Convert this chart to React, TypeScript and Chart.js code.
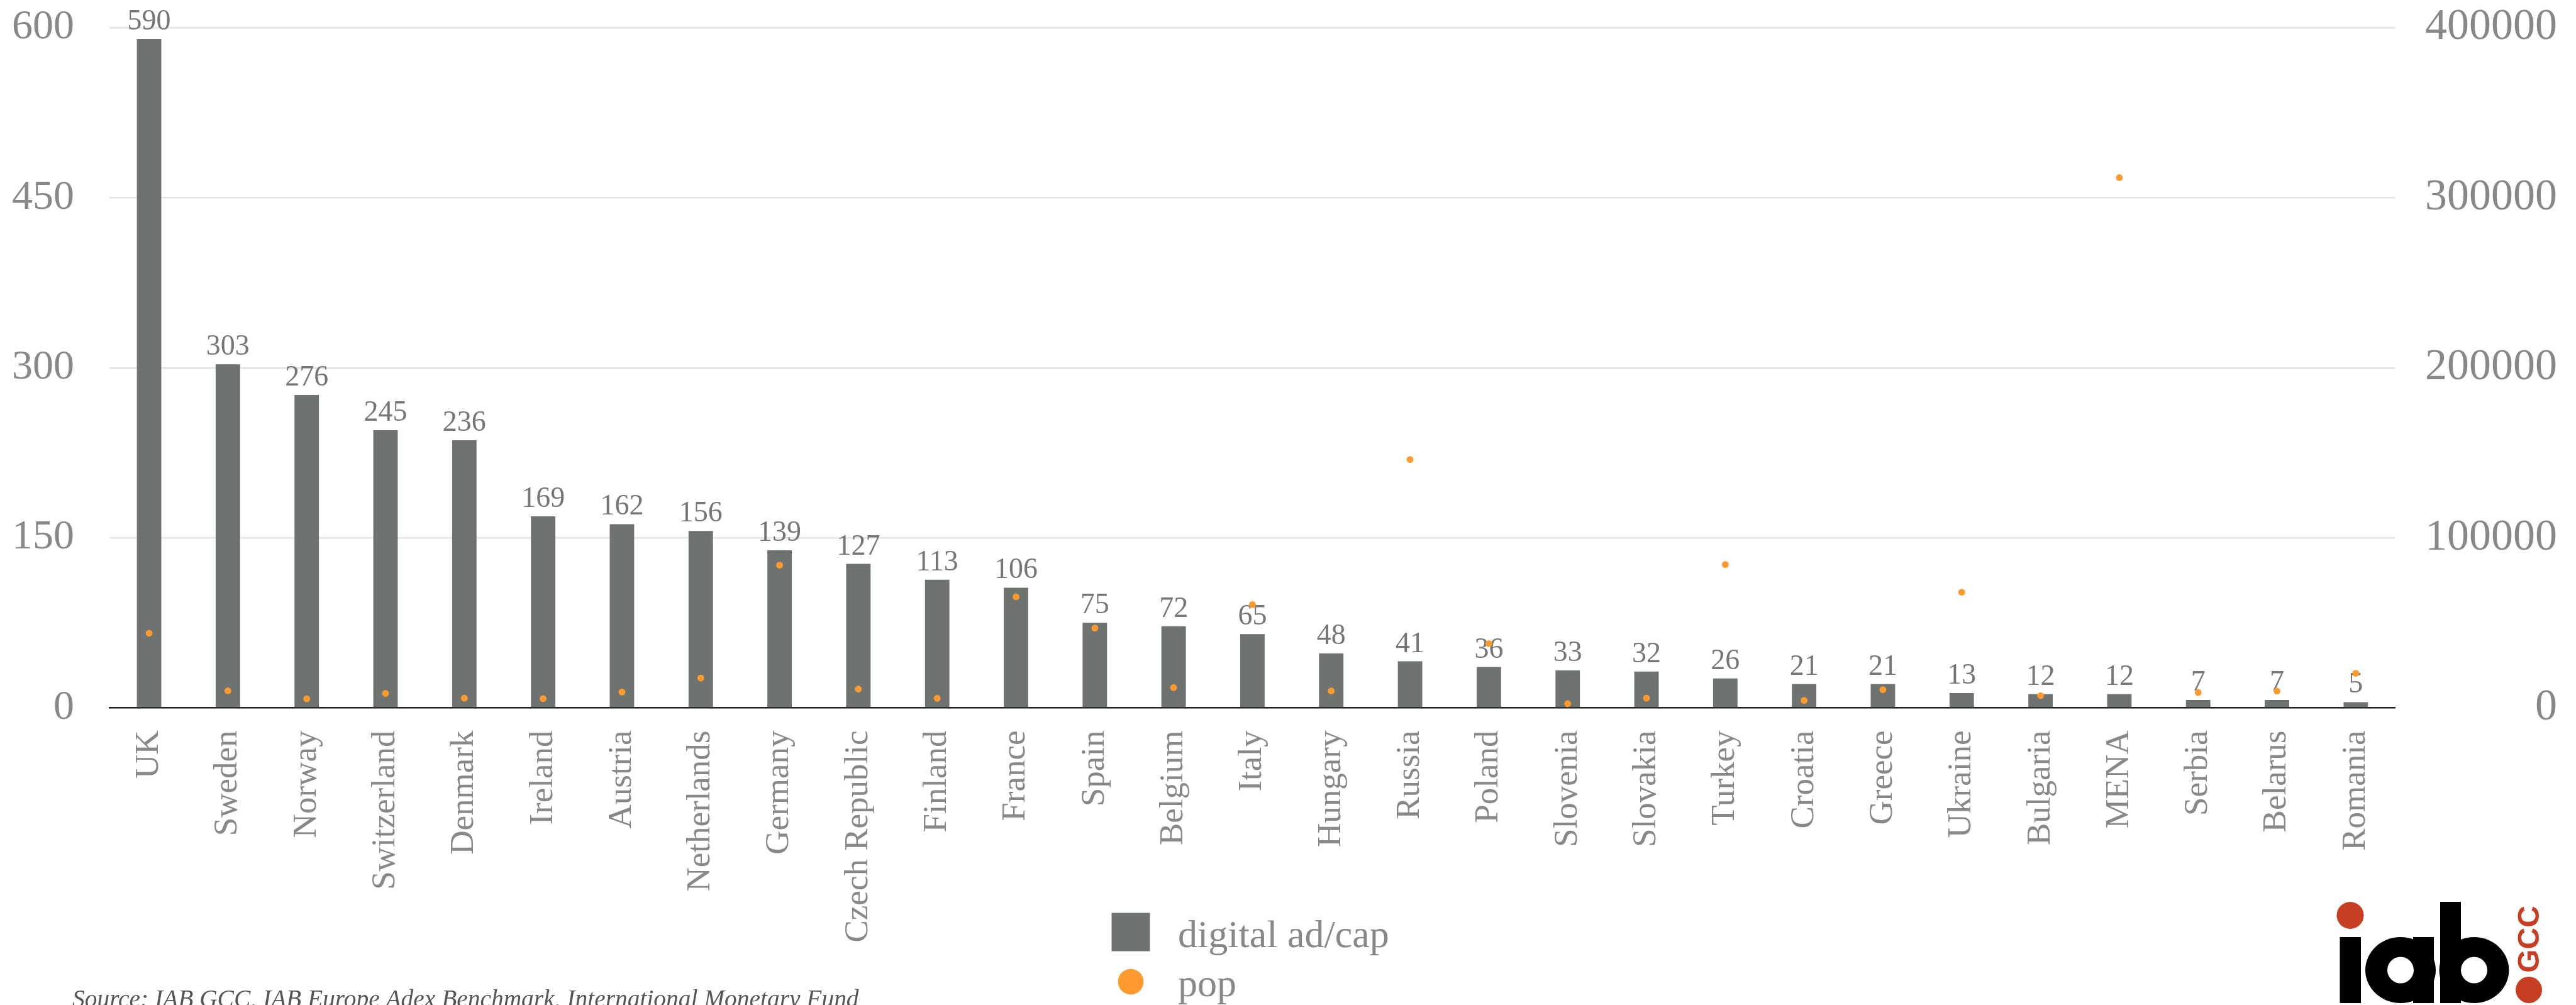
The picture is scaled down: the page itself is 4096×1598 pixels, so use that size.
import React, { useEffect, useRef } from "react";
import { Chart, registerables } from "chart.js";

Chart.register(...registerables);

const categories = [
  "UK", "Sweden", "Norway", "Switzerland", "Denmark", "Ireland", "Austria",
  "Netherlands", "Germany", "Czech Republic", "Finland", "France", "Spain",
  "Belgium", "Italy", "Hungary", "Russia", "Poland", "Slovenia", "Slovakia",
  "Turkey", "Croatia", "Greece", "Ukraine", "Bulgaria", "MENA", "Serbia",
  "Belarus", "Romania",
];

const digitalAdPerCap = [
  590, 303, 276, 245, 236, 169, 162, 156, 139, 127, 113, 106, 75, 72, 65, 48,
  41, 36, 33, 32, 26, 21, 21, 13, 12, 12, 7, 7, 5,
];

const population = [
  43900, 10000, 5300, 8500, 5700, 5400, 9300, 17500, 83900, 11000, 5600, 65300,
  46900, 11900, 60700, 9900, 146000, 37800, 2400, 5700, 84300, 4400, 10700,
  68000, 7200, 311800, 9000, 9800, 20300,
];

const seriesNames = ["digital ad/cap", "pop"];
const sourceText =
  "Source: IAB GCC, IAB Europe Adex Benchmark, International Monetary Fund";

const BAR_COLOR = "#6E7370";
const DOT_COLOR = "#FF9A2E";
const TEXT_COLOR = "#888888";
const SERIF = '"Liberation Serif", "Times New Roman", serif';

const valueLabelsPlugin = {
  id: "valueLabels",
  afterDatasetDraw(chart: any, args: any) {
    if (args.index !== 0) return;
    const ctx = chart.ctx;
    const data = chart.data.datasets[0].data;
    ctx.save();
    ctx.font = `46px ${SERIF}`;
    ctx.fillStyle = "#767676";
    ctx.textAlign = "center";
    ctx.textBaseline = "alphabetic";
    args.meta.data.forEach((el: any, i: number) => {
      ctx.fillText(String(data[i]), el.x, el.y - 15);
    });
    ctx.restore();
  },
};

const decorPlugin = {
  id: "decor",
  afterDraw(chart: any) {
    const ctx = chart.ctx;
    const ds = chart.data.datasets;
    ctx.save();
    // legend
    const lx = 1798;
    const rows = [1482, 1561];
    ctx.fillStyle = ds[0].backgroundColor;
    ctx.fillRect(lx - 30.5, rows[0] - 30.5, 61, 61);
    ctx.beginPath();
    ctx.fillStyle = ds[1].pointBackgroundColor;
    ctx.arc(lx, rows[1], 20.4, 0, Math.PI * 2);
    ctx.fill();
    ctx.font = `62px ${SERIF}`;
    ctx.fillStyle = TEXT_COLOR;
    ctx.textAlign = "left";
    ctx.textBaseline = "alphabetic";
    ctx.fillText(ds[0].label, 1873, rows[0] + 24);
    ctx.fillText(ds[1].label, 1873, rows[1] + 23);

    // source
    ctx.font = `italic 100px ${SERIF}`;
    const w = ctx.measureText(sourceText).width;
    const fs = (100 * 1251) / w;
    ctx.font = `italic ${fs}px ${SERIF}`;
    ctx.fillStyle = "#555555";
    ctx.textBaseline = "alphabetic";
    ctx.fillText(sourceText, 115, 1575 + fs * 0.66);

    // logo
    const red = "#C73E22";
    ctx.fillStyle = red;
    ctx.beginPath();
    ctx.ellipse(3737, 1455.5, 21.5, 21.5, 0, 0, Math.PI * 2);
    ctx.fill();
    ctx.beginPath();
    ctx.ellipse(4021, 1574, 21, 21, 0, 0, Math.PI * 2);
    ctx.fill();
    ctx.fillStyle = "#000000";
    ctx.fillRect(3720.5, 1490, 33.5, 105);
    // a
    ctx.beginPath();
    ctx.ellipse(3817, 1542.5, 56, 52.5, 0, 0, Math.PI * 2);
    ctx.fill();
    ctx.fillRect(3837, 1490, 33, 105);
    // b
    ctx.beginPath();
    ctx.ellipse(3934, 1542.5, 55.4, 52.5, 0, 0, Math.PI * 2);
    ctx.fill();
    ctx.fillRect(3880, 1434, 33, 161);
    ctx.fillStyle = "#FFFFFF";
    ctx.beginPath();
    ctx.arc(3817, 1542.5, 21, 0, Math.PI * 2);
    ctx.fill();
    ctx.beginPath();
    ctx.arc(3934, 1542.5, 21, 0, Math.PI * 2);
    ctx.fill();
    // GCC
    ctx.translate(4021.5, 1493.5);
    ctx.rotate(-Math.PI / 2);
    ctx.fillStyle = red;
    ctx.font = 'bold 48px "Liberation Sans", Arial, sans-serif';
    ctx.textAlign = "center";
    ctx.textBaseline = "middle";
    ctx.fillText("GCC", 0, 2);
    ctx.restore();
  },
};

export default function App() {
  const canvasRef = useRef<HTMLCanvasElement | null>(null);

  useEffect(() => {
    document.body.style.margin = "0";
    document.body.style.overflow = "hidden";
    const canvas = canvasRef.current;
    if (!canvas) return;
    const chart = new Chart(canvas, {
      type: "bar",
      data: {
        labels: categories,
        datasets: [
          {
            type: "bar",
            label: seriesNames[0],
            data: digitalAdPerCap,
            backgroundColor: BAR_COLOR,
            yAxisID: "y",
            barPercentage: 0.31,
            categoryPercentage: 1,
            order: 2,
          } as any,
          {
            type: "line",
            label: seriesNames[1],
            data: population,
            yAxisID: "y1",
            showLine: false,
            pointRadius: 5.4,
            pointBorderWidth: 0,
            pointBackgroundColor: DOT_COLOR,
            pointBorderColor: DOT_COLOR,
            backgroundColor: DOT_COLOR,
            borderColor: DOT_COLOR,
            order: 1,
          } as any,
        ],
      },
      options: {
        responsive: false,
        animation: false,
        devicePixelRatio: 1,
        layout: { padding: { top: 44, right: 30, bottom: 0, left: 0 } },
        plugins: {
          legend: { display: false },
          tooltip: { enabled: false },
        },
        scales: {
          x: {
            grid: { display: false, drawTicks: false },
            border: { display: true, color: "#222222", width: 2.5 },
            ticks: {
              font: { family: SERIF, size: 53 },
              color: TEXT_COLOR,
              minRotation: 90,
              maxRotation: 90,
              autoSkip: false,
              padding: 36,
            },
            afterFit: (s: any) => {
              s.height = 472.5;
            },
          },
          y: {
            position: "left",
            min: 0,
            max: 600,
            grid: { color: "#E4E4E4", lineWidth: 2.5, drawTicks: false },
            border: { display: false },
            ticks: {
              stepSize: 150,
              font: { family: SERIF, size: 66 },
              color: TEXT_COLOR,
              padding: 56.4,
            },
            afterFit: (s: any) => {
              s.width = 174.4;
              s.paddingTop = 30;
              s.paddingBottom = 30;
            },
          },
          y1: {
            position: "right",
            min: 0,
            max: 400000,
            grid: { display: false, drawTicks: false },
            border: { display: false },
            ticks: {
              stepSize: 100000,
              font: { family: SERIF, size: 70 },
              color: TEXT_COLOR,
              crossAlign: "far",
              callback: (v: any) => String(v),
            },
            afterFit: (s: any) => {
              s.width = 257.5;
              s.paddingTop = 30;
              s.paddingBottom = 30;
            },
          },
        },
      } as any,
      plugins: [valueLabelsPlugin, decorPlugin],
    });
    return () => chart.destroy();
  }, []);

  return (
    <div style={{ width: 4096, height: 1598, position: "relative", background: "#FFFFFF" }}>
      <canvas ref={canvasRef} width={4096} height={1598} style={{ display: "block" }} />
    </div>
  );
}
